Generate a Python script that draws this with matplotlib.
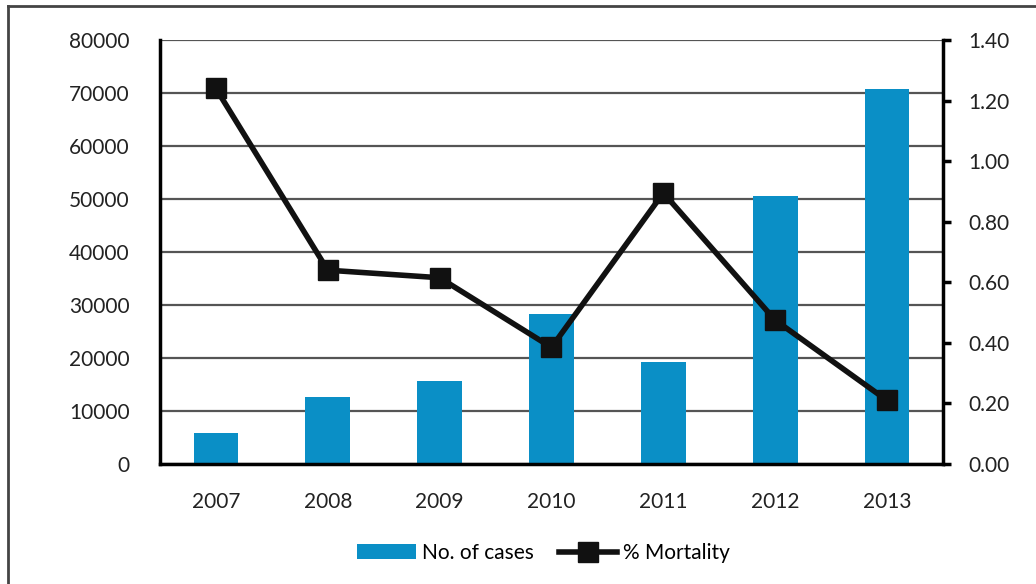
import matplotlib
matplotlib.use("Agg")
import matplotlib.pyplot as plt
from matplotlib.lines import Line2D
import numpy as np

plt.rcParams["font.family"] = ["Lato", "DejaVu Sans"]

years = ["2007", "2008", "2009", "2010", "2011", "2012", "2013"]
cases = [5900, 12700, 15700, 28300, 19300, 50500, 70800]
mortality = [1.24, 0.64, 0.615, 0.385, 0.895, 0.475, 0.21]

BAR_COLOR = "#0a8fc6"
LINE_COLOR = "#111111"
GRID_COLOR = "#555555"
TEXT_COLOR = "#222222"

fig = plt.figure(figsize=(10.36, 5.84), dpi=100)
ax = fig.add_axes([0.1544, 0.2055, 0.7558, 0.726])
ax2 = ax.twinx()

x = np.arange(len(years))
ax.bar(x, cases, width=0.4, color=BAR_COLOR, zorder=2, label="No. of cases")
ax.set_xlim(-0.5, len(years) - 0.5)
ax.set_ylim(0, 80000)
ax.set_yticks(np.arange(0, 80001, 10000))
ax.set_yticklabels([str(v) for v in range(0, 80001, 10000)])
ax.set_xticks(x)
ax.set_xticklabels(years)
ax.grid(True, axis="y", color=GRID_COLOR, linewidth=1.6, zorder=0)
ax.set_axisbelow(True)

ax2.plot(x, mortality, color=LINE_COLOR, linewidth=4, marker="s",
         markersize=14, zorder=3, label="% Mortality")
ax2.set_ylim(0, 1.40)
ax2.set_yticks(np.arange(0, 1.41, 0.2))
ax2.set_yticklabels([f"{v:.2f}" for v in np.arange(0, 1.41, 0.2)])

for a in (ax, ax2):
    a.spines["top"].set_visible(False)
    a.spines["left"].set_linewidth(2.5)
    a.spines["right"].set_linewidth(2.5)
    a.spines["bottom"].set_linewidth(2.5)
ax2.spines["left"].set_visible(False)
ax2.spines["bottom"].set_visible(False)
ax.spines["right"].set_visible(False)

ax.tick_params(axis="y", left=False, right=False, length=0, pad=22,
               labelsize=15, labelcolor=TEXT_COLOR)
ax.tick_params(axis="x", bottom=False, length=0, pad=20, labelsize=15,
               labelcolor=TEXT_COLOR)
ax2.tick_params(axis="y", left=False, direction="out", length=6, width=2.5,
                pad=12, labelsize=15, labelcolor=TEXT_COLOR)

h1, l1 = ax.get_legend_handles_labels()
h2, l2 = ax2.get_legend_handles_labels()
fig.legend(h1 + h2, l1 + l2, loc="center", bbox_to_anchor=(0.525, 0.053),
           ncol=2, frameon=False, fontsize=15, handlelength=2.8,
           columnspacing=1.2, handletextpad=0.3)

# outer border (left and top only visible)
fig.add_artist(Line2D([0.008, 0.008], [0.0, 0.99], color="#444444", linewidth=2,
                      transform=fig.transFigure))
fig.add_artist(Line2D([0.008, 1.0], [0.99, 0.99], color="#444444", linewidth=2,
                      transform=fig.transFigure))

fig.savefig("out.png", dpi=100)
